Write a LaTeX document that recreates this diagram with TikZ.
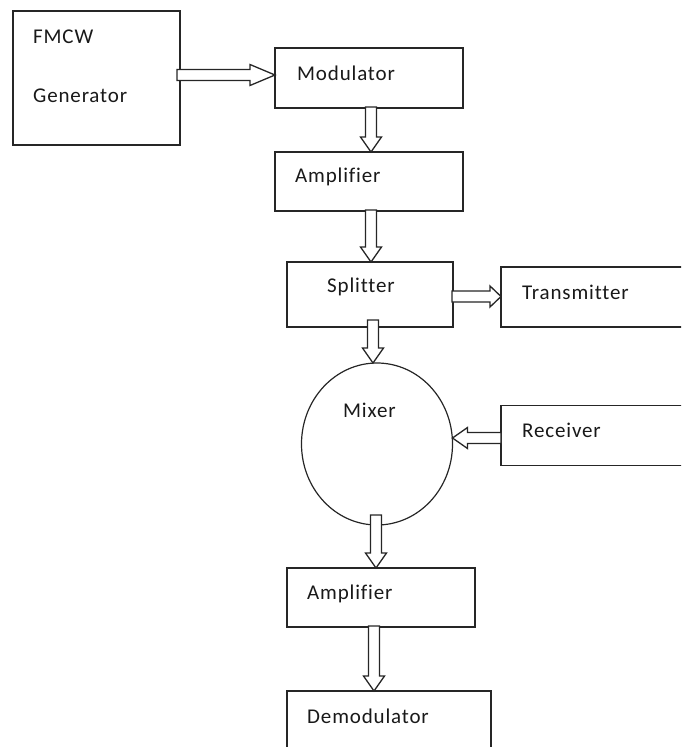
\documentclass[tikz,border=0pt]{standalone}
\usepackage{fontspec}
\setmainfont{Carlito}[LetterSpace=4,Ligatures={NoCommon,NoContextual}]
\usetikzlibrary{shapes.geometric,calc,decorations.pathreplacing}
\tikzset{
  box/.style={draw=black!85, line width=1.5pt, rectangle, inner sep=0pt, outer sep=0pt},
  circ/.style={draw=black!85, line width=1.2pt, ellipse, inner sep=0pt, outer sep=0pt},
  lbl/.style={anchor=base west, inner sep=0pt, font=\fontsize{21}{25}\selectfont, text=black!90},
  fat/.style={decorate, decoration={show path construction, lineto code={
    \path let \p1=(\tikzinputsegmentfirst), \p2=(\tikzinputsegmentlast) in
      \pgfextra{\pgfmathsetmacro\fatang{atan2(\y2-\y1,\x2-\x1)}%
                \pgfmathsetmacro\fatlen{veclen(\x2-\x1,\y2-\y1)}%
                \xdef\fatangG{\fatang}\xdef\fatlenG{\fatlen}};
    \draw[line width=1.3pt, draw=black!85, fill=white, line join=miter,
          shift={(\tikzinputsegmentfirst)}, rotate=\fatangG]
      (0pt,-5.5pt) -- ({\fatlenG*1pt-#1},-5.5pt) -- ({\fatlenG*1pt-#1},-10.5pt)
      -- ({\fatlenG*1pt},0pt) -- ({\fatlenG*1pt-#1},10.5pt) -- ({\fatlenG*1pt-#1},5.5pt)
      -- (0pt,5.5pt) -- cycle;
  }}},
  fat/.default=15pt
}
\begin{document}
\begin{tikzpicture}[x=1pt,y=-1pt]
\useasboundingbox (0,0) rectangle (681,747);
\clip (0,0) rectangle (681,747);
% boxes
\node[box, minimum width=167pt, minimum height=134pt] (gen) at (96.5,78) {};
\node[box, minimum width=188pt, minimum height=60pt] (mod) at (369,78) {};
\node[box, minimum width=188pt, minimum height=59pt] (amp1) at (369,181.5) {};
\node[box, minimum width=166pt, minimum height=65pt] (spl) at (370,294.5) {};
\node[box, minimum width=199pt, minimum height=60pt] (tx) at (600.5,297) {};
\node[circ, minimum width=151pt, minimum height=162pt] (mix) at (377,444) {};
\node[box, minimum width=199pt, minimum height=60pt] (rx) at (600.5,435.5) {};
\node[box, minimum width=188pt, minimum height=59pt] (amp2) at (381,597.5) {};
\node[box, minimum width=204pt, minimum height=80pt] (demod) at (389,731) {};
% texts
\node[lbl] (tfmcw) at (33,43) {FMCW};
\node[lbl] (tgen) at (33,102) {Generator};
\node[lbl] (tmod) at (297,80) {Modulator};
\node[lbl] (tamp1) at (295,182) {Amplifier};
\node[lbl] (tspl) at (327,292) {Splitter};
\node[lbl] (ttx) at (522,299) {Transmitter};
\node[lbl] (tmix) at (343,417) {Mixer};
\node[lbl] (trx) at (522,437) {Receiver};
\node[lbl] (tamp2) at (307,599) {Amplifier};
\node[lbl] (tdemod) at (307,723) {Demodulator};
% arrows
\path[fat=25pt] ([xshift=-3pt]gen.east |- 0,75) -- (mod.west |- 0,75);
\path[fat] ([yshift=1pt]mod.south -| 371,0) -- (amp1.north -| 371,0);
\path[fat] ([yshift=1pt]amp1.south -| 371,0) -- (spl.north -| 371,0);
\path[fat=11pt] ([xshift=-1pt]spl.east |- 0,296.5) -- (tx.west |- 0,296.5);
\path[fat] ([yshift=7pt]spl.south -| 373,0) -- (mix.north -| 373,0);
\path[fat] (rx.west |- 0,438) -- (mix.east |- 0,438);
\path[fat] ([yshift=10pt]mix.south -| 376,0) -- (amp2.north -| 376,0);
\path[fat] ([yshift=1pt]amp2.south -| 374,0) -- (demod.north -| 374,0);
\end{tikzpicture}
\end{document}
